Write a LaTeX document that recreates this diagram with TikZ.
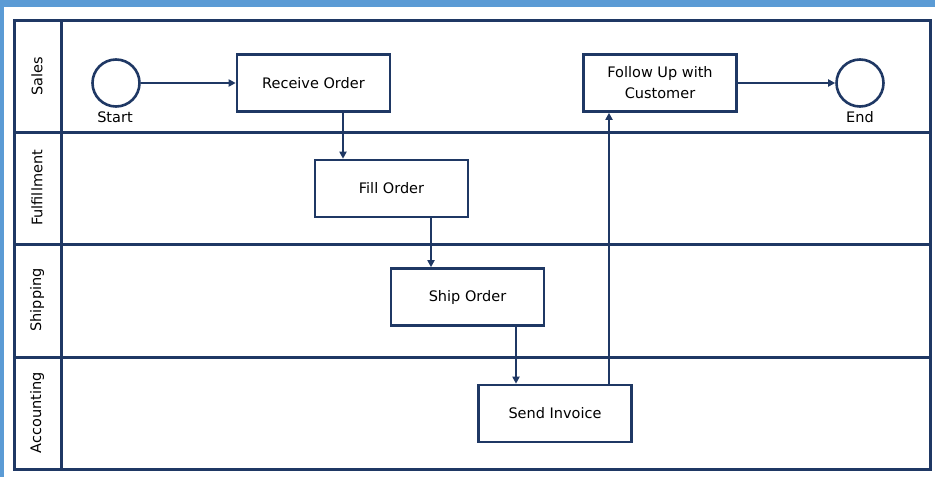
\documentclass[tikz,border=0pt]{standalone}
\usepackage{fontspec}
\setmainfont{DejaVu Sans}
\usetikzlibrary{arrows.meta}
\definecolor{navy}{HTML}{1F3864}
\definecolor{frameblue}{HTML}{5B9BD5}
\begin{document}
\begin{tikzpicture}[x=1pt,y=-1pt,
  lane/.style={draw=navy,line width=3pt},
  task/.style={draw=navy,line width=2.6pt,fill=white,minimum width=153pt,minimum height=57pt,
    inner sep=0pt,align=center,font=\fontsize{14.5}{21}\selectfont},
  event/.style={draw=navy,line width=2.6pt,fill=white,circle,minimum size=47pt,inner sep=0pt},
  evlabel/.style={font=\fontsize{14.5}{16}\selectfont},
  lanelabel/.style={rotate=90,font=\fontsize{14.5}{16}\selectfont},
  flow/.style={draw=navy,line width=2.2pt,-{Triangle[length=7pt,width=7pt]}}]
% page background and white sheet
\fill[frameblue] (0,0) rectangle (935,477);
\fill[white] (3.5,6.5) rectangle (935,477);
\useasboundingbox (0,0) rectangle (935,477);
% pool frame, header column and lane dividers
\draw[lane] (14,20) rectangle (930,469);
\draw[lane] (61,20) -- (61,469);
\draw[lane] (14,132) -- (930,132);
\draw[lane] (14,244) -- (930,244);
\draw[lane] (14,357) -- (930,357);
% lane titles
\node[lanelabel] (lsales) at (37,76) {Sales};
\node[lanelabel] (lfulfil) at (37,188) {Fulfillment};
\node[lanelabel] (lship) at (37,300) {Shipping};
\node[lanelabel] (lacct) at (37,413) {Accounting};
% events
\node[event] (start) at (116,83) {};
\node[evlabel] (startlbl) at (115,117) {Start};
\node[event] (end) at (860,83) {};
\node[evlabel] (endlbl) at (860,117) {End};
% tasks
\node[task] (receive) at (313.5,83) {Receive Order};
\node[task] (fill) at (391.5,188.5) {Fill Order};
\node[task] (shipo) at (467.5,297) {Ship Order};
\node[task] (invoice) at (555,413.5) {Send Invoice};
\node[task] (follow) at (660,83) {Follow Up with\\Customer};
% sequence flows
\draw[flow] (start) -- (receive);
\draw[flow] (receive.south -| 343,0) -- (fill.north -| 343,0);
\draw[flow] (fill.south -| 431,0) -- (shipo.north -| 431,0);
\draw[flow] (shipo.south -| 516,0) -- (invoice.north -| 516,0);
\draw[flow] (invoice.north -| 609,0) -- (follow.south -| 609,0);
\draw[flow] (follow) -- (end);
\end{tikzpicture}
\end{document}
